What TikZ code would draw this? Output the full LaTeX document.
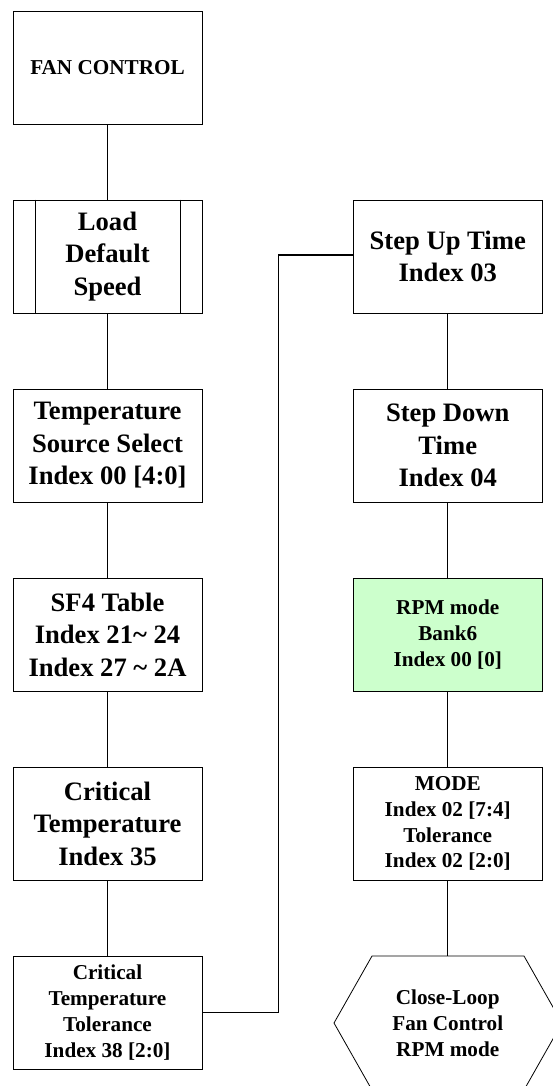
\documentclass[tikz,border=0pt]{standalone}
\usepackage{fontspec}
\setmainfont{Liberation Serif}
\definecolor{rpmgreen}{HTML}{CCFFCC}
\tikzset{
  box/.style={draw=black, line width=0.8pt, fill=white, minimum width=189pt, minimum height=113pt,
    inner sep=0pt, align=center, font=\bfseries\fontsize{26.6}{32.5}\selectfont},
  smallbox/.style={box, font=\bfseries\fontsize{21.2}{25.8}\selectfont},
  link/.style={draw=black, line width=1.2pt},
  longlink/.style={draw=black, line width=1.8pt},
}
\begin{document}
\begin{tikzpicture}[x=1pt, y=-1pt]
\useasboundingbox (0,0) rectangle (553,1086);
\fill[white] (0,0) rectangle (553,1086);

% left column
\node[smallbox] (fan) at (107.5,67.5) {FAN CONTROL};
\node[box] (load) at (107.5,256.5) {Load\\Default\\Speed};
\draw[line width=0.8pt] ([xshift=22.5pt]load.north west) -- ([xshift=22.5pt]load.south west);
\draw[line width=0.8pt] ([xshift=-22.5pt]load.north east) -- ([xshift=-22.5pt]load.south east);
\node[box] (tss) at (107.5,445.5) {Temperature\\Source Select\\Index 00 [4:0]};
\node[box] (sf4) at (107.5,634.5) {SF4 Table\\Index 21\textasciitilde{} 24\\Index 27 \textasciitilde{} 2A};
\node[box] (crit) at (107.5,823.5) {Critical\\Temperature\\Index 35};
\node[smallbox] (tol) at (107.5,1012.5) {Critical\\Temperature\\Tolerance\\Index 38 [2:0]};

% right column
\node[box] (up) at (447.75,256.5) {Step Up Time\\Index 03};
\node[box] (down) at (447.75,445.5) {Step Down\\Time\\Index 04};
\node[smallbox, fill=rpmgreen] (rpm) at (447.75,634.5) {RPM mode\\Bank6\\Index 00 [0]};
\node[smallbox] (mode) at (447.75,823.5) {MODE\\Index 02 [7:4]\\Tolerance\\Index 02 [2:0]};

% hexagon (terminator), clipped by the picture edge
\begin{scope}
\clip (0,0) rectangle (553,1086);
\draw[line width=0.8pt, fill=white] (372,956) -- (524,956) -- (562,1023) -- (524,1090) -- (372,1090) -- (334,1023) -- cycle;
\end{scope}
\coordinate (hextop) at (447.75,956);
\node[align=center, inner sep=0pt, font=\bfseries\fontsize{21.2}{25.8}\selectfont] (hex) at (447.75,1023) {Close-Loop\\Fan Control\\RPM mode};

% connectors
\draw[link] (fan) -- (load);
\draw[link] (load) -- (tss);
\draw[link] (tss) -- (sf4);
\draw[link] (sf4) -- (crit);
\draw[link] (crit) -- (tol);
\draw[longlink] (tol.east) -- ++(76,0) |- ([yshift=1.5pt]up.west);
\draw[link] (up) -- (down);
\draw[link] (down) -- (rpm);
\draw[link] (rpm) -- (mode);
\draw[link] (mode) -- (hextop);
\end{tikzpicture}
\end{document}
